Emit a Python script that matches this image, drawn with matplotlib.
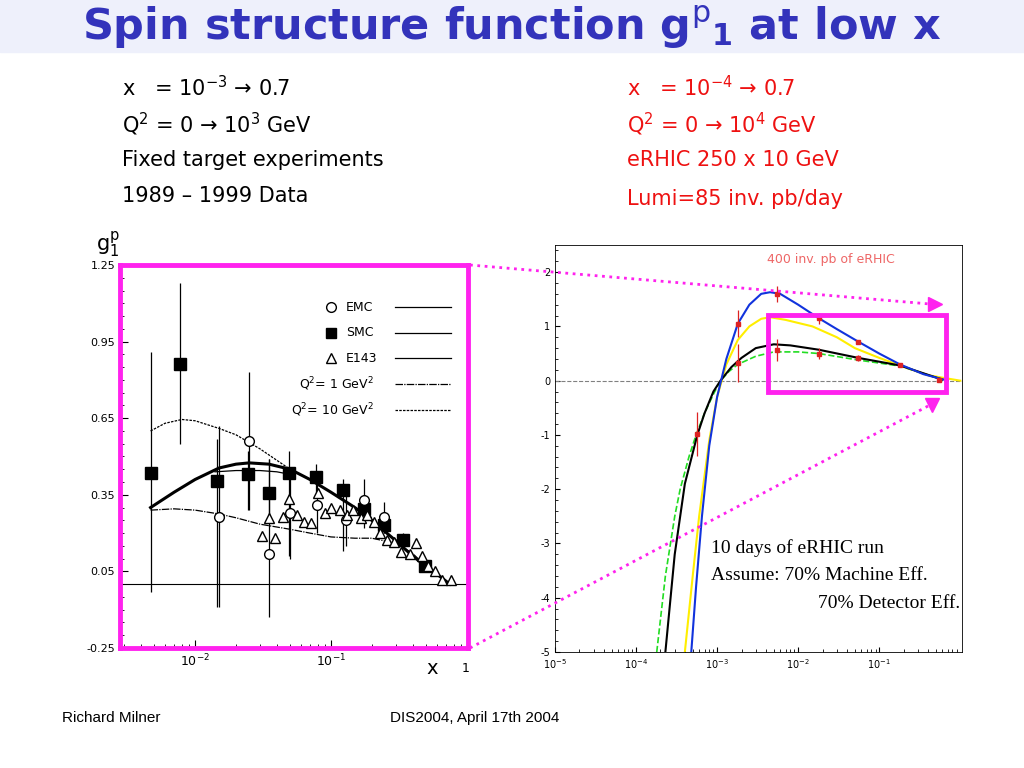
import matplotlib
matplotlib.use("Agg")
import matplotlib.pyplot as plt
import numpy as np

# ---- left panel data (fixed target, 1989-1999) ----
smc_x = [0.0047, 0.0078, 0.0144, 0.0246, 0.035, 0.049, 0.077, 0.123, 0.176, 0.244, 0.34, 0.49]
smc_y = [0.437, 0.861, 0.405, 0.43, 0.356, 0.437, 0.418, 0.37, 0.293, 0.23, 0.173, 0.07]
smc_lo = [-0.03, 0.55, -0.09, 0.29, 0.25, 0.11, 0.36, 0.13, 0.25, 0.2, 0.15, 0.05]
smc_hi = [0.91, 1.18, 0.57, 0.52, 0.49, 0.52, 0.47, 0.41, 0.34, 0.26, 0.2, 0.09]

emc_x = [0.015, 0.025, 0.035, 0.05, 0.079, 0.128, 0.176, 0.247]
emc_y = [0.262, 0.562, 0.12, 0.28, 0.31, 0.25, 0.33, 0.265]
emc_lo = [-0.09, 0.29, -0.13, 0.1, 0.2, 0.15, 0.22, 0.2]
emc_hi = [0.62, 0.83, 0.49, 0.45, 0.4, 0.35, 0.41, 0.32]

e143_x = [0.031, 0.035, 0.039, 0.044, 0.049, 0.056, 0.063, 0.071, 0.08, 0.09, 0.1, 0.117,
          0.131, 0.146, 0.165, 0.185, 0.207, 0.231, 0.258, 0.292, 0.33, 0.38, 0.42, 0.47,
          0.52, 0.58, 0.66, 0.76]
e143_y = [0.19, 0.26, 0.18, 0.265, 0.335, 0.27, 0.245, 0.24, 0.356, 0.28, 0.30, 0.29,
          0.27, 0.29, 0.26, 0.27, 0.245, 0.2, 0.173, 0.166, 0.127, 0.12, 0.16, 0.11,
          0.07, 0.05, 0.016, 0.016]

fit_x = [0.0047, 0.007, 0.01, 0.015, 0.02, 0.025, 0.035, 0.05, 0.07, 0.1, 0.15, 0.2, 0.3, 0.4, 0.5, 0.6, 0.75]
fit_thick = [0.30, 0.36, 0.41, 0.455, 0.47, 0.475, 0.47, 0.45, 0.41, 0.36, 0.3, 0.25, 0.17, 0.11, 0.07, 0.04, 0.0]
q2_1_x = [0.0047, 0.007, 0.01, 0.015, 0.02, 0.03, 0.05, 0.07, 0.1, 0.15, 0.2, 0.3, 0.4, 0.5, 0.6]
q2_1_y = [0.29, 0.295, 0.29, 0.275, 0.26, 0.235, 0.215, 0.2, 0.185, 0.18, 0.18, 0.16, 0.12, 0.07, 0.03]
q2_10_x = [0.0047, 0.006, 0.008, 0.01, 0.015, 0.02, 0.03, 0.05, 0.07, 0.1, 0.15, 0.2]
q2_10_y = [0.6, 0.63, 0.645, 0.64, 0.61, 0.585, 0.53, 0.45, 0.41, 0.36, 0.3, 0.26]
thin_x = [0.014, 0.02, 0.03, 0.04, 0.05]
thin_y = [0.44, 0.445, 0.445, 0.44, 0.43]

# ---- right panel data (eRHIC projection) ----
er_x = [5.7e-4, 1.8e-3, 1.8e-3, 5.5e-3, 5.5e-3, 1.8e-2, 1.8e-2, 5.5e-2, 5.5e-2, 0.18, 0.55]
er_y = [-0.98, 1.05, 0.32, 1.6, 0.57, 1.15, 0.5, 0.72, 0.42, 0.28, 0.02]
er_e = [0.4, 0.25, 0.35, 0.15, 0.2, 0.1, 0.1, 0.03, 0.05, 0.03, 0.01]

blue_x = [4.8e-4, 5.5e-4, 6.5e-4, 8e-4, 1e-3, 1.3e-3, 1.8e-3, 2.5e-3, 3.5e-3, 4.5e-3, 6e-3, 1e-2, 1.8e-2, 3e-2, 5.5e-2, 0.1, 0.18, 0.35, 0.7]
blue_y = [-5.0, -3.8, -2.5, -1.2, -0.3, 0.4, 1.05, 1.4, 1.6, 1.63, 1.6, 1.4, 1.15, 0.95, 0.72, 0.5, 0.3, 0.12, 0.0]
yel_x = [4e-4, 5e-4, 6e-4, 8e-4, 1e-3, 1.3e-3, 1.8e-3, 2.5e-3, 3.5e-3, 4.5e-3, 7e-3, 1.5e-2, 3e-2, 5e-2, 0.1, 0.18, 0.4, 1.0]
yel_y = [-5.0, -3.6, -2.5, -1.1, -0.3, 0.3, 0.75, 1.0, 1.14, 1.17, 1.12, 1.0, 0.8, 0.6, 0.42, 0.28, 0.1, 0.0]
blk_x = [2.3e-4, 3e-4, 4e-4, 5.7e-4, 7e-4, 9e-4, 1.1e-3, 1.5e-3, 2e-3, 3e-3, 5e-3, 8e-3, 1.8e-2, 5.5e-2, 0.18, 0.6]
blk_y = [-5.0, -3.2, -1.9, -1.0, -0.6, -0.2, 0.0, 0.25, 0.42, 0.6, 0.67, 0.65, 0.57, 0.42, 0.28, 0.02]
grn_x = [1.8e-4, 2.3e-4, 3e-4, 3.5e-4, 4.5e-4, 5.5e-4, 7e-4, 9e-4, 1.1e-3, 1.4e-3, 1.8e-3, 3e-3, 5e-3, 1e-2, 1.8e-2, 5.5e-2, 0.18, 0.6]
grn_y = [-5.0, -3.6, -2.5, -2.0, -1.4, -1.0, -0.6, -0.25, 0.0, 0.17, 0.3, 0.45, 0.53, 0.53, 0.5, 0.38, 0.27, 0.02]

MAGENTA = "#ff22ee"
plt.rcParams["axes.unicode_minus"] = False

fig = plt.figure(figsize=(10.24, 7.68), dpi=100)

# slide overlay in pixel coordinates
ov = fig.add_axes([0, 0, 1, 1], zorder=5)
ov.set_xlim(0, 1024)
ov.set_ylim(768, 0)
ov.axis("off")
ov.patch.set_alpha(0)

bg = fig.add_axes([0, 0, 1, 1], zorder=-1)
bg.set_xlim(0, 1024)
bg.set_ylim(768, 0)
bg.axis("off")
bg.add_patch(plt.Rectangle((0, 0), 1024, 52, color="#eef0fb"))

ov.text(512, 28, r"Spin structure function g$^{\mathrm{p}}$$_{\mathbf{1}}$ at low x", ha="center", va="center",
        fontsize=31, fontweight="bold", color="#3333bb")

left_lines = [r"x   = 10$^{-3}$ → 0.7", r"Q$^2$ = 0 → 10$^3$ GeV", "Fixed target experiments", "1989 – 1999 Data"]
right_lines = [r"x   = 10$^{-4}$ → 0.7", r"Q$^2$ = 0 → 10$^4$ GeV", "eRHIC 250 x 10 GeV", "Lumi=85 inv. pb/day"]
for i, s in enumerate(left_lines):
    ov.text(122, 88 + 36 * i, s, fontsize=15, va="center", color="black")
for i, s in enumerate(right_lines):
    ov.text(627, 88 + 36 * i + (3 if i == 3 else 0), s, fontsize=15, va="center", color="#ee1111")

ov.text(62, 718, "Richard Milner", fontsize=11, va="center", family="Liberation Sans")
ov.text(390, 718, "DIS2004, April 17th 2004", fontsize=11, va="center", family="Liberation Sans")

# ---- left axes ----
axl = fig.add_axes([120 / 1024, 1 - 648 / 768, 348 / 1024, 383 / 768])
axl.set_xscale("log")
axl.set_xlim(0.0028, 1.02)
axl.set_ylim(-0.25, 1.25)
axl.axhline(0.0, color="black", lw=0.8)
axl.plot(fit_x, fit_thick, color="black", lw=2.2)
axl.plot(thin_x, thin_y, color="black", lw=0.9)
axl.plot(q2_1_x, q2_1_y, color="black", lw=0.9, ls=(0, (6, 1, 1, 1)))
axl.plot(q2_10_x, q2_10_y, color="black", lw=0.9, ls=(0, (2, 1)))
axl.vlines(smc_x, smc_lo, smc_hi, color="black", lw=0.9)
axl.vlines(emc_x, emc_lo, emc_hi, color="black", lw=0.9)
axl.plot(smc_x, smc_y, "s", color="black", ms=8)
axl.plot(emc_x, emc_y, "o", mfc="white", mec="black", ms=7)
axl.plot(e143_x, e143_y, "^", mfc="white", mec="black", ms=7)
axl.set_yticks([-0.25, 0.05, 0.35, 0.65, 0.95, 1.25])
axl.set_yticklabels(["-0.25", "0.05", "0.35", "0.65", "0.95", "1.25"], fontsize=8)
axl.set_xticks([0.01, 0.1])
axl.set_xticklabels([r"10$^{-2}$", r"10$^{-1}$"], fontsize=9)
axl.yaxis.set_minor_locator(matplotlib.ticker.MultipleLocator(0.05))
axl.tick_params(direction="in", length=6)
axl.tick_params(which="minor", direction="in", length=3)
for sp in axl.spines.values():
    sp.set_color(MAGENTA)
    sp.set_linewidth(3.5)

# legend drawn inside the panel
leg = [("o", "EMC", "-"), ("s", "SMC", "-"), ("^", "E143", "-"),
       (None, r"Q$^2$= 1 GeV$^2$", (0, (6, 1, 1, 1))), (None, r"Q$^2$= 10 GeV$^2$", (0, (2, 1)))]
for i, (m, lab, ls) in enumerate(leg):
    yy = 0.89 - 0.067 * i
    if m:
        axl.plot([0.605], [yy], m, transform=axl.transAxes, ms=7,
                 mfc="black" if m == "s" else "white", mec="black", clip_on=False)
        axl.text(0.65, yy, lab, transform=axl.transAxes, fontsize=9, va="center")
    else:
        axl.text(0.73, yy, lab, transform=axl.transAxes, fontsize=9, va="center", ha="right")
    axl.plot([0.79, 0.95], [yy, yy], transform=axl.transAxes, color="black", lw=0.9, ls=ls)

ov.text(96, 245, r"g$_1^{\mathrm{p}}$", fontsize=15, va="center")
ov.text(432, 668, "x", fontsize=14, va="center", ha="center")
ov.text(466, 668, "1", fontsize=9, va="center", ha="center")

# ---- right axes ----
axr = fig.add_axes([555 / 1024, 1 - 652 / 768, 407 / 1024, 407 / 768])
axr.set_xscale("log")
axr.set_xlim(1e-5, 1.05)
axr.set_ylim(-5, 2.5)
axr.axhline(0, color="gray", lw=0.8, ls="--")
axr.plot(grn_x, grn_y, color="#22dd22", lw=1.2, ls="--")
axr.plot(yel_x, yel_y, color="#ffee00", lw=1.5)
axr.plot(blk_x, blk_y, color="black", lw=1.5)
axr.plot(blue_x, blue_y, color="#1133dd", lw=1.5)
axr.errorbar(er_x, er_y, yerr=er_e, fmt="s", color="#dd2222", ms=3, lw=0.9)
axr.set_yticks(range(-5, 3))
axr.set_xticks([1e-5, 1e-4, 1e-3, 1e-2, 1e-1])
axr.set_xticklabels([r"10$^{-5}$", r"10$^{-4}$", r"10$^{-3}$", r"10$^{-2}$", r"10$^{-1}$"])
axr.tick_params(labelsize=7, direction="in")
axr.tick_params(which="minor", direction="in")
axr.yaxis.set_minor_locator(matplotlib.ticker.MultipleLocator(0.2))
for sp in axr.spines.values():
    sp.set_linewidth(0.6)
axr.text(0.52, 0.965, "400 inv. pb of eRHIC", transform=axr.transAxes, fontsize=9, color="#ee6666", va="center")
ov.text(711, 548, "10 days of eRHIC run", fontsize=14, family="Liberation Serif", va="center")
ov.text(711, 576, "Assume: 70% Machine Eff.", fontsize=14, family="Liberation Serif", va="center")
ov.text(960, 603, "70% Detector Eff.", fontsize=14, family="Liberation Serif", va="center", ha="right")

# magenta zoom box and connecting arrows
ov.add_patch(plt.Rectangle((768, 315), 178, 77, fill=False, ec=MAGENTA, lw=3.5))
ov.plot([470, 930], [265, 304], ls=":", color=MAGENTA, lw=2)
ov.plot([470, 930], [648, 405], ls=":", color=MAGENTA, lw=2)
ov.plot([935], [304], marker=">", color=MAGENTA, ms=10)
ov.plot([932], [405], marker="v", color=MAGENTA, ms=10)

fig.savefig("out.png", dpi=100)
